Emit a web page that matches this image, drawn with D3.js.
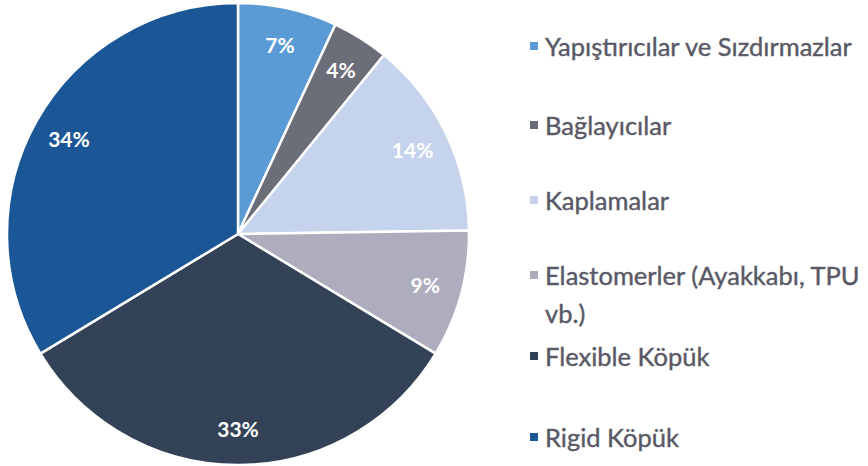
<!DOCTYPE html>
<html><head><meta charset="utf-8">
<script src="https://cdn.jsdelivr.net/npm/d3@7"></script>
<style>body{margin:0;background:#fff;}svg{display:block;}</style>
</head><body>
<svg id="c" width="868" height="466"></svg>
<script>
const categories = ["Yapıştırıcılar ve Sızdırmazlar","Bağlayıcılar","Kaplamalar","Elastomerler (Ayakkabı, TPU vb.)","Flexible Köpük","Rigid Köpük"];
const values = [7,4,14,9,33,34];
const colors = ["#5b9bd5","#6b6d79","#c6d3ec","#aeadbd","#334257","#1b5797"];
const legendLines = [["Yapıştırıcılar ve Sızdırmazlar"],["Bağlayıcılar"],["Kaplamalar"],["Elastomerler (Ayakkabı, TPU","vb.)"],["Flexible Köpük"],["Rigid Köpük"]];
const legendY = [46,125,200,275,356,437];

const svg = d3.select("#c");
const cx = 238, cy = 234, R = 231;
const g = svg.append("g").attr("transform",`translate(${cx},${cy})`);
const pie = d3.pie().sort(null).value(d=>d);
const arcs = pie(values);
const arc = d3.arc().innerRadius(0).outerRadius(R);
const labelArc = d3.arc().innerRadius(R*0.84).outerRadius(R*0.84);
g.selectAll("path").data(arcs).join("path")
  .attr("d",arc).attr("fill",(d,i)=>colors[i])
  .attr("stroke","#fff").attr("stroke-width",2.5).attr("stroke-linejoin","round");
g.selectAll("text").data(arcs).join("text")
  .attr("transform",d=>`translate(${labelArc.centroid(d)})`)
  .attr("text-anchor","middle").attr("dominant-baseline","central")
  .attr("fill","#fff").attr("font-family","Lato, 'Open Sans', sans-serif")
  .attr("font-weight","bold").attr("font-size",21)
  .text(d=>d.data+"%");

const lg = svg.append("g");
legendLines.forEach((lines,i)=>{
  lg.append("rect").attr("x",530).attr("y",legendY[i]-4).attr("width",8).attr("height",8).attr("fill",colors[i]);
  lines.forEach((t,j)=>{
    lg.append("text").attr("x",545).attr("y",legendY[i]+j*38)
      .attr("dominant-baseline","central")
      .attr("font-family","Lato, 'Open Sans', sans-serif").attr("font-size",25.5)
      .attr("fill","#595966").attr("stroke","#595966").attr("stroke-width",0.4).text(t);
  });
});
</script>
</body></html>
